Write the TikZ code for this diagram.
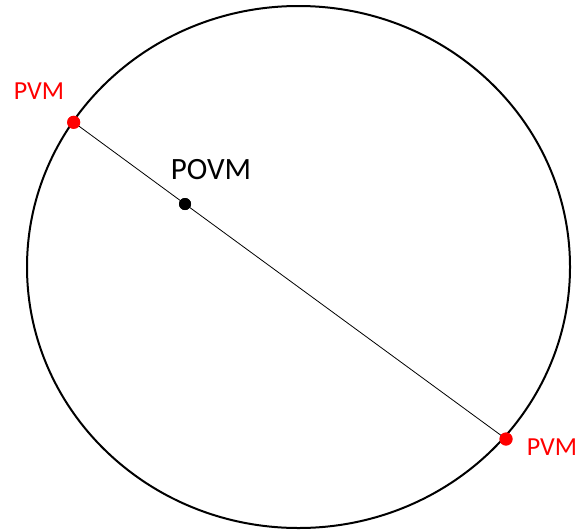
\documentclass[tikz,border=0pt]{standalone}
\usepackage{fontspec}
\setmainfont{Carlito}
\begin{document}
\begin{tikzpicture}[x=1pt,y=-1pt,
  reddot/.style={circle,fill=red,inner sep=0pt,minimum size=13pt},
  blackdot/.style={circle,fill=black,inner sep=0pt,minimum size=12pt},
  redlabel/.style={text=red,font=\fontsize{26}{30}\selectfont,inner sep=0pt},
  blacklabel/.style={text=black,font=\fontsize{31}{36}\selectfont,inner sep=0pt}]
\useasboundingbox (0,0) rectangle (580,530);
\draw[line width=2pt] (298.5,267) ellipse [x radius=271.5, y radius=261];
\node[reddot] (p1) at (73.7,122.3) {};
\node[reddot] (p2) at (506,439) {};
\node[blackdot] (c) at (185,204) {};
\draw[line width=0.8pt] (p1.center) -- (c.center) -- (p2.center);
\node[reddot] at (p1) {};
\node[reddot] at (p2) {};
\node[blackdot] at (c) {};
\node[redlabel] (l1) at (39,91.5) {PVM};
\node[redlabel] (l2) at (552,447.5) {PVM};
\node[blacklabel] (l3) at (211,170) {POVM};
\end{tikzpicture}
\end{document}
